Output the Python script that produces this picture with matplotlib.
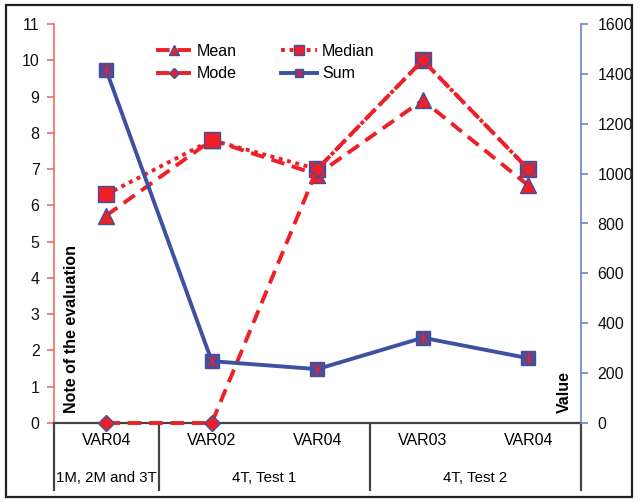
import matplotlib
matplotlib.use("Agg")
import matplotlib.pyplot as plt
from matplotlib.path import Path
from matplotlib.patches import Rectangle
from matplotlib.legend_handler import HandlerTuple
import matplotlib.transforms as mtransforms

plt.rcParams['font.family'] = ['Liberation Sans', 'DejaVu Sans']

# Data
categories = ["VAR04", "VAR02", "VAR04", "VAR03", "VAR04"]
groups = ["1M, 2M and 3T", "4T, Test 1", "4T, Test 2"]
group_spans = [(0, 0), (1, 2), (3, 4)]
mean_vals = [5.72, 7.8, 6.85, 8.9, 6.55]
median_vals = [6.3, 7.8, 7.0, 10.0, 7.0]
mode_vals = [0, 0, 7.0, 10.0, 7.0]
sum_vals = [1415, 248, 216, 342, 260]
left_ticks = list(range(0, 12))
right_ticks = list(range(0, 1601, 200))

RED = "#ee1f26"
BLUE = "#3d51a2"
W, H = 641, 503

fig = plt.figure(figsize=(W / 100, H / 100), dpi=100)
# outer frame
fig.patches.append(Rectangle((6 / W, 1 - 497 / H), (632 - 6) / W, (497 - 5) / H,
                             transform=fig.transFigure, fill=False,
                             edgecolor="#222222", linewidth=1.6))

x0, x1, ytop, ybot = 53.5, 581, 24, 423
ax = fig.add_axes([x0 / W, 1 - ybot / H, (x1 - x0) / W, (ybot - ytop) / H])
ax2 = ax.twinx()

x = list(range(len(categories)))

l_mean, = ax.plot(x, mean_vals, color=RED, lw=2.8, ls=(0, (3.5, 2)), marker="^",
                  ms=11, mfc=RED, mec=BLUE, mew=1.0, clip_on=False, zorder=3)
l_median, = ax.plot(x, median_vals, color=RED, lw=2.8, ls=(0, (1, 1.2)), marker="s",
                    ms=11, mfc=RED, mec=BLUE, mew=1.0, clip_on=False, zorder=3)
l_mode, = ax.plot(x, mode_vals, color=RED, lw=2.8, ls=(0, (3.5, 2)), marker="D",
                  ms=8, mfc=RED, mec=BLUE, mew=1.0, clip_on=False, zorder=4)

star = Path([(0, -1), (0, 1), (-0.75, -0.75), (0.75, 0.75), (-0.75, 0.75), (0.75, -0.75)],
            [Path.MOVETO, Path.LINETO, Path.MOVETO, Path.LINETO, Path.MOVETO, Path.LINETO])
l_sum, = ax2.plot(x, sum_vals, color=BLUE, lw=2.8, marker="s", ms=10,
                  mfc=BLUE, mec=BLUE, mew=1.0, clip_on=False, zorder=3)
l_star, = ax2.plot(x, sum_vals, ls="none", marker=star, ms=10, mfc="none",
                   mec=RED, mew=0.8, clip_on=False, zorder=4)

ax.set_xlim(-0.5, len(categories) - 0.5)
ax.set_ylim(0, 11)
ax.set_yticks(left_ticks)
ax2.set_ylim(0, 1600)
ax2.set_yticks(right_ticks)
ax.set_xticks([])

for a in (ax, ax2):
    a.spines["top"].set_visible(False)
    a.patch.set_visible(False)
ax.spines["right"].set_visible(False)
ax2.spines["left"].set_visible(False)
ax2.spines["bottom"].set_visible(False)
ax.spines["left"].set_color("#f26a6a")
ax.spines["left"].set_linewidth(1.2)
ax2.spines["right"].set_color("#6b84c8")
ax2.spines["right"].set_linewidth(1.2)
ax.spines["bottom"].set_color("#444444")
ax.spines["bottom"].set_linewidth(1.6)
ax.tick_params(axis="y", direction="out", length=5, width=1.2, color="#f26a6a",
               labelsize=11.5, pad=5, labelcolor="#111111")
ax2.tick_params(axis="y", direction="out", length=5, width=1.2, color="#6b84c8",
                labelsize=11.5, pad=7, labelcolor="#111111")

# category and group labels beneath the axis
tr = mtransforms.blended_transform_factory(ax.transData, ax.transAxes)
for xi, c in zip(x, categories):
    ax.text(xi, -0.043, c, transform=tr, ha="center", va="center", fontsize=11.5)
for g, (a, b) in zip(groups, group_spans):
    ax.text((a + b) / 2, -0.138, g, transform=tr, ha="center", va="center", fontsize=10.8)
for sx in [-0.5, 0.5, 2.5, 4.5]:
    ax.plot([sx, sx], [0, -0.17], transform=tr, color="#444444", lw=1.6,
            clip_on=False, solid_capstyle="butt")

ax.text(0.035, 0.025, "Note of the evaluation", transform=ax.transAxes, rotation=90,
        ha="center", va="bottom", fontsize=11.5, fontweight="bold")
ax.text(0.968, 0.025, "Value", transform=ax.transAxes, rotation=90,
        ha="center", va="bottom", fontsize=11.5, fontweight="bold")

# legend filled column by column: Mean/Mode on the left, Median/Sum on the right
leg = ax2.legend([l_mean, l_mode, l_median, (l_sum, l_star)],
                 ["Mean", "Mode", "Median", "Sum"],
                 handler_map={tuple: HandlerTuple(ndivide=1)},
                 ncol=2, frameon=False, fontsize=11.5, markerscale=0.6,
                 handlelength=2.2, handletextpad=0.35, columnspacing=2.8,
                 labelspacing=0.45, borderpad=0, borderaxespad=0,
                 loc="upper left", bbox_to_anchor=(156 / W, 1 - 44 / H),
                 bbox_transform=fig.transFigure)
ax2.set_zorder(ax.get_zorder() + 1)

fig.savefig("out.png", dpi=100)
